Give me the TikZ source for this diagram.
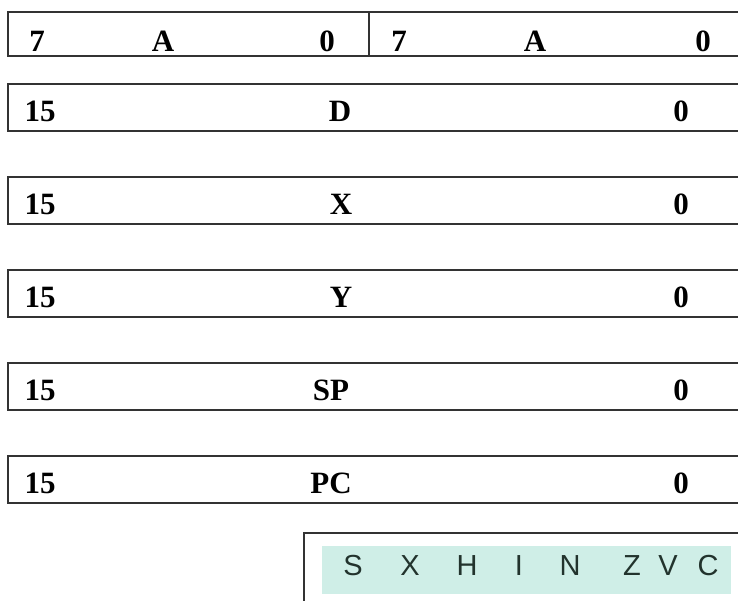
\documentclass[tikz,border=0pt]{standalone}
\usepackage{fontspec}
\setmainfont{Liberation Serif}
\newfontfamily\flagfont{Liberation Sans}
\definecolor{boxline}{HTML}{333333}
\definecolor{flagfill}{HTML}{CFEEE7}
\definecolor{flagtext}{HTML}{22332D}
\begin{document}
\begin{tikzpicture}[x=1pt,y=-1pt,
  regbox/.style={draw=boxline,line width=1.3pt},
  lbl/.style={inner sep=0pt,anchor=center,font=\fontsize{31}{31}\selectfont\bfseries,text=black},
  flg/.style={inner sep=0pt,anchor=center,font=\flagfont\fontsize{29}{29}\selectfont,text=flagtext}]
\useasboundingbox (0,0) rectangle (738,601);
\clip (0,0) rectangle (738,601);
% A register
\draw[regbox] (8,12) rectangle (760,56);
\draw[regbox] (369,12) -- (369,56);
\node[lbl] (a7l) at (37,41) {7};
\node[lbl] (aAl) at (163,41) {A};
\node[lbl] (a0l) at (327,41) {0};
\node[lbl] (a7r) at (399,41) {7};
\node[lbl] (aAr) at (535,41) {A};
\node[lbl] (a0r) at (703,41) {0};
% 16-bit registers
\foreach \n/\t/\cx [count=\i from 0] in {D/D/340,X/X/341,Y/Y/341,SP/SP/331,PC/PC/331}{
  \pgfmathsetmacro{\top}{84+93*\i}
  \pgfmathsetmacro{\bot}{\top+47}
  \pgfmathsetmacro{\ty}{\top+27}
  \draw[regbox] (8,\top) rectangle (760,\bot);
  \node[lbl] (hi\n) at (40,\ty) {15};
  \node[lbl] (nm\n) at (\cx,\ty) {\t};
  \node[lbl] (lo\n) at (681,\ty) {0};
}
% CCR flags
\draw[regbox] (304,640) -- (304,533) -- (760,533);
\fill[flagfill] (322,546) rectangle (731,594);
\foreach \f/\x in {S/353,X/410,H/467,I/519,N/570,Z/632,V/668,C/708}{
  \node[flg] (f\f) at (\x,566) {\f};
}
\end{tikzpicture}
\end{document}
